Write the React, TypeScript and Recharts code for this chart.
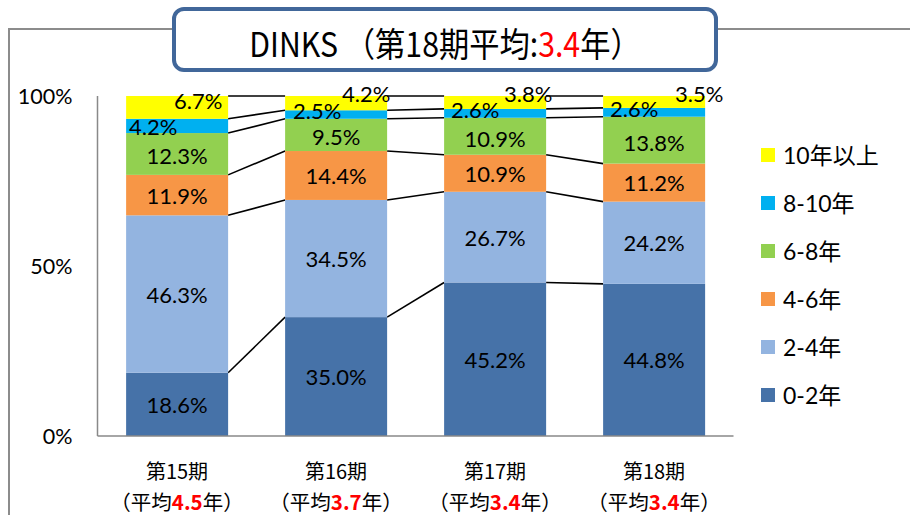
import React from 'react';
import { BarChart, Bar, XAxis, YAxis, Legend, LabelList } from 'recharts';

// ---- data ----
const periods = ['第15期', '第16期', '第17期', '第18期'];
const periodAverages = ['4.5', '3.7', '3.4', '3.4'];
const titleLabel = 'DINKS';
const titlePeriod = '第18期平均';
const titleAverage = '3.4';
const seriesNames = ['0-2年', '2-4年', '4-6年', '6-8年', '8-10年', '10年以上'];
const seriesColors = ['#4672A8', '#93B4E0', '#F79646', '#92D050', '#00B0F0', '#FFFF00'];
const years0to2 = [18.6, 35.0, 45.2, 44.8];
const years2to4 = [46.3, 34.5, 26.7, 24.2];
const years4to6 = [11.9, 14.4, 10.9, 11.2];
const years6to8 = [12.3, 9.5, 10.9, 13.8];
const years8to10 = [4.2, 2.5, 2.6, 2.6];
const years10plus = [6.7, 4.2, 3.8, 3.5];
const yTicks = [0, 0.5, 1];

const seriesValues = [years0to2, years2to4, years4to6, years6to8, years8to10, years10plus];
const seriesKeys = seriesValues.map((_, i) => `s${i}`);

const data = periods.map((p, i) => {
  const row: any = { period: p, avg: periodAverages[i] };
  seriesValues.forEach((vals, s) => (row[seriesKeys[s]] = vals[i]));
  return row;
});

// ---- layout ----
const W = 910;
const H = 515;
const MARGIN = { top: 96, right: 176.5, bottom: 0, left: 37.5 };
const YAXIS_W = 60;
const XAXIS_H = 79;
const PLOT_W = W - MARGIN.left - MARGIN.right - YAXIS_W;
const BAND = PLOT_W / periods.length;

const NUM_FONT = 'Lato, "Noto Sans CJK JP", sans-serif';
const JP_FONT = '"Noto Sans CJK JP", sans-serif';

const total = (i: number) => seriesValues.reduce((a, v) => a + v[i], 0);
const cumTop = (i: number, s: number) => {
  let sum = 0;
  for (let t = 0; t <= s; t++) sum += seriesValues[t][i];
  return sum / total(i);
};

const makeShape = (s: number) => (props: any) => {
  const { x, y, width, height, index } = props;
  const frac = seriesValues[s][index] / total(index);
  const k = height / frac; // px per full 100%
  const bottom = y + height + (cumTop(index, s) - frac) * k;
  let line = null;
  if (index < periods.length - 1) {
    const y2 = bottom - cumTop(index + 1, s) * k;
    line = (
      <line x1={x + width} y1={y} x2={x + BAND} y2={y2} stroke="#000" strokeWidth={1.6} />
    );
  }
  return (
    <g>
      <rect x={x} y={y} width={width} height={height} fill={seriesColors[s]} />
      {line}
    </g>
  );
};

const YELLOW_DX = [21, 30, 33, 45];
const BLUE_DX = [-24, -19, -20, -20];

const makeLabel = (s: number) => (props: any) => {
  const vb = props.viewBox || props;
  const { x, y, width, height } = vb;
  const index = props.index;
  const value = seriesValues[s][index];
  let cx = x + width / 2;
  let cy = y + height / 2;
  if (s === 5) {
    cx += YELLOW_DX[index];
    cy = index === 0 ? cy - 7 : y - 3;
  } else if (s === 4) {
    cx += BLUE_DX[index];
    cy = index === 0 ? cy + 1 : cy - 4;
  } else if (s === 3) {
    cy += 2;
  }
  return (
    <text
      x={cx}
      y={cy}
      textAnchor="middle"
      dominantBaseline="central"
      fontFamily={NUM_FONT}
      fontSize={22}
      fill="#000"
    >
      {value.toFixed(1)}%
    </text>
  );
};

const PeriodTick = (props: any) => {
  const { x, y, payload, index } = props;
  return (
    <g>
      <text x={x} y={y + 34} textAnchor="middle" dominantBaseline="central" fontFamily={JP_FONT} fontSize={20} fill="#000">
        {payload.value}
      </text>
      <text x={x} y={y + 65} textAnchor="middle" dominantBaseline="central" fontFamily={JP_FONT} fontSize={20.5} fill="#000">
        <tspan>（平均</tspan>
        <tspan fill="#FF0000" fontWeight="bold">{periodAverages[index]}</tspan>
        <tspan>年）</tspan>
      </text>
    </g>
  );
};

const LegendContent = (props: any) => {
  const items = [...(props.payload || [])].sort(
    (a: any, b: any) => seriesNames.indexOf(b.value) - seriesNames.indexOf(a.value)
  );
  return (
    <div>
      {items.map((it: any, i: number) => (
        <div key={i} style={{ display: 'flex', alignItems: 'center', height: 48 }}>
          <div style={{ width: 14, height: 14, background: it.color, marginRight: 8 }} />
          <span style={{ fontFamily: NUM_FONT, fontSize: 23, color: '#000', lineHeight: '26px' }}>{it.value}</span>
        </div>
      ))}
    </div>
  );
};

export default function App() {
  return (
    <div style={{ position: 'absolute', left: 0, top: 0, width: W, height: H, overflow: 'hidden', background: '#fff' }}>
      <div
        style={{
          position: 'absolute',
          left: 8,
          top: 28,
          width: 1000,
          height: 700,
          borderLeft: '2px solid #8C8C8C',
          borderTop: '2px solid #8C8C8C',
        }}
      />
      <div style={{ position: 'absolute', left: 0, top: 0 }}>
        <BarChart width={W} height={H} data={data} margin={MARGIN} stackOffset="expand" barCategoryGap="18%">
          <XAxis
            dataKey="period"
            height={XAXIS_H}
            tickLine={false}
            tickSize={0}
            tickMargin={0}
            axisLine={{ stroke: '#898989', strokeWidth: 1.5 }}
            tick={<PeriodTick />}
            interval={0}
          />
          <YAxis
            width={YAXIS_W}
            domain={[0, 1]}
            ticks={yTicks}
            tickFormatter={(v: number) => `${Math.round(v * 100)}%`}
            tickLine={false}
            tickSize={0}
            tickMargin={25}
            axisLine={{ stroke: '#898989', strokeWidth: 1.5 }}
            tick={{ fontFamily: NUM_FONT, fontSize: 21.5, fill: '#000' }}
          />
          <Legend
            layout="vertical"
            align="center"
            verticalAlign="middle"
            content={<LegendContent />}
            wrapperStyle={{ left: 761, top: 131, width: 150 }}
          />
          {seriesKeys.map((k, s) => (
            <Bar
              key={k}
              dataKey={k}
              name={seriesNames[s]}
              stackId="a"
              fill={seriesColors[s]}
              isAnimationActive={false}
              shape={makeShape(s)}
            >
              <LabelList dataKey={k} content={makeLabel(s)} />
            </Bar>
          ))}
        </BarChart>
      </div>
      <div
        style={{
          position: 'absolute',
          left: 172,
          top: 7,
          width: 538,
          height: 57,
          border: '4px solid #41679A',
          borderRadius: 12,
          background: '#fff',
          display: 'flex',
          alignItems: 'center',
          justifyContent: 'center',
          overflow: 'hidden',
        }}
      >
        <div
          style={{
            fontFamily: JP_FONT,
            fontSize: 34,
            color: '#000',
            whiteSpace: 'nowrap',
            transform: 'scaleX(0.89)',
            marginTop: 6,
            lineHeight: '40px',
          }}
        >
          <span>{titleLabel} （{titlePeriod}:</span>
          <span style={{ color: '#FF0000' }}>{titleAverage}</span>
          <span>年）</span>
        </div>
      </div>
    </div>
  );
}
